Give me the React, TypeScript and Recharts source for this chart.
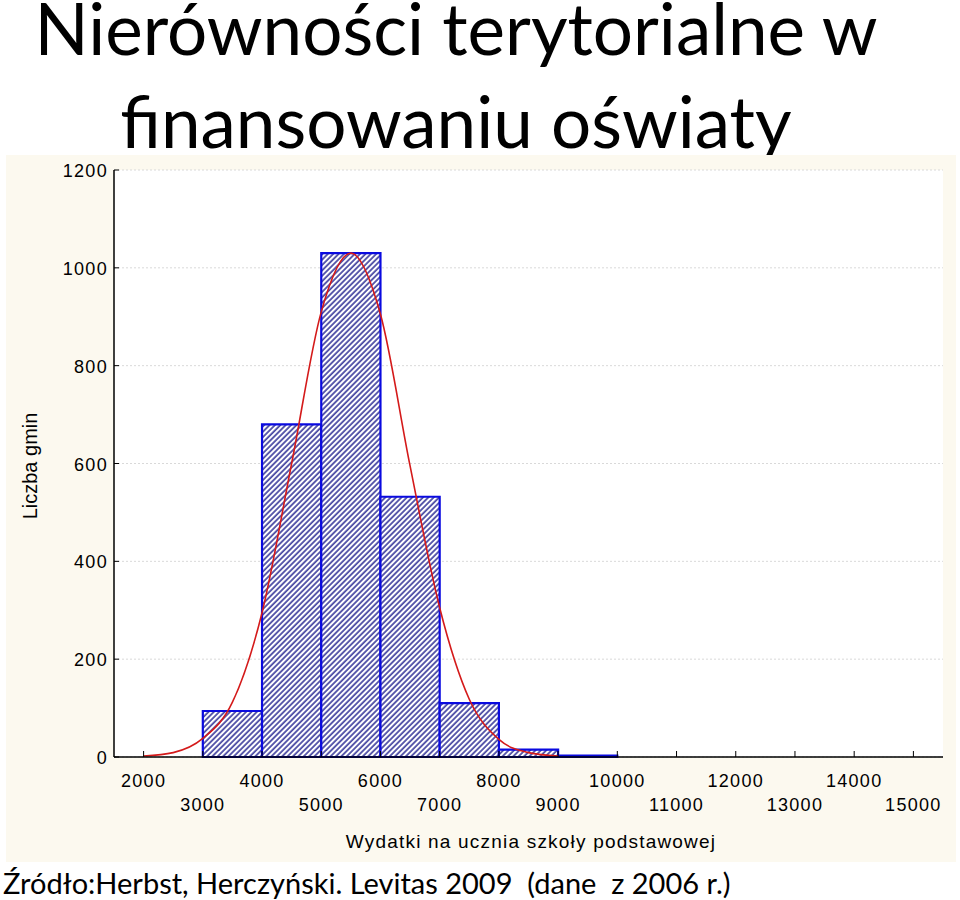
import React from 'react';
import { ComposedChart, Line, XAxis, YAxis, CartesianGrid, ReferenceArea } from 'recharts';

// Histogram bins (PLN per pupil) and number of municipalities
const binStart = [3000, 4000, 5000, 6000, 7000, 8000, 9000];
const binEnd = [4000, 5000, 6000, 7000, 8000, 9000, 10000];
const binCount = [94, 680, 1030, 532, 110, 15, 3];

// Fitted normal curve
const curveX = [2000, 2500, 3000, 3500, 4000, 4500, 5000, 5500, 6000, 6500, 7000, 7500, 8000, 8500, 9000];
const curveY = [2, 9, 38, 112, 295, 600, 910, 1030, 905, 595, 305, 118, 36, 9, 2];

const xTicks = [2000, 3000, 4000, 5000, 6000, 7000, 8000, 9000, 10000, 11000, 12000, 13000, 14000, 15000];
const yTicks = [0, 200, 400, 600, 800, 1000, 1200];

const titleLines = ['Nierówności terytorialne w', 'finansowaniu oświaty'];
const xLabel = 'Wydatki na ucznia szkoły podstawowej';
const yLabel = 'Liczba gmin';
const sourceText = 'Źródło:Herbst, Herczyński. Levitas 2009  (dane  z 2006 r.)';

const curveData = curveX.map((x, i) => ({ x, y: curveY[i] }));

const tickFont = { fontFamily: '"Liberation Sans", Arial, sans-serif', fontSize: 18, letterSpacing: 1.3 };

const BottomTick = (props: any) => {
  const { x, y, payload } = props;
  const v = payload.value as number;
  const even = (v / 1000) % 2 === 0;
  return (
    <g>
      <line x1={x} y1={y} x2={x} y2={y - 6} stroke="#000" strokeWidth={1} />
      <text x={x} y={y + (even ? 30 : 54)} textAnchor="middle" fill="#000" style={tickFont}>
        {v}
      </text>
    </g>
  );
};

const TopTick = (props: any) => {
  const { x, y } = props;
  return <line x1={x} y1={y} x2={x} y2={y + 6} stroke="#000" strokeWidth={1} />;
};

const LeftTick = (props: any) => {
  const { x, y, payload } = props;
  return (
    <g>
      <line x1={x} y1={y} x2={x + 5} y2={y} stroke="#000" strokeWidth={1} />
      <text x={x - 6} y={y + 7} textAnchor="end" fill="#000" style={tickFont}>
        {payload.value}
      </text>
    </g>
  );
};

const titleBaselines = [55, 148];

export default function App() {
  return (
    <div style={{ position: 'absolute', left: 0, top: 0, width: 960, height: 900, background: '#fff', overflow: 'hidden' }}>
      <svg width={0} height={0} style={{ position: 'absolute' }}>
        <defs>
          <pattern id="hatch" patternUnits="userSpaceOnUse" width={3.8} height={3.8} patternTransform="rotate(45)">
            <rect x={0} y={0} width={3.8} height={3.8} fill="#fff" />
            <line x1={1} y1={0} x2={1} y2={3.8} stroke="#1c1c8c" strokeWidth={1.4} />
          </pattern>
        </defs>
      </svg>
      <svg width={960} height={160} style={{ position: 'absolute', left: 0, top: 0 }}>
        {titleLines.map((t, i) => (
          <text
            key={i}
            x={456}
            y={titleBaselines[i]}
            textAnchor="middle"
            fill="#000"
            style={{ fontFamily: 'Lato, "Open Sans", sans-serif', fontSize: 71 }}
          >
            {t}
          </text>
        ))}
      </svg>
      <div style={{ position: 'absolute', left: 6, top: 155, width: 950, height: 707, background: '#fcf9ef' }} />
      <div style={{ position: 'absolute', left: 0, top: 0 }}>
        <ComposedChart
          width={960}
          height={900}
          data={curveData}
          margin={{ top: 170, right: 17, bottom: 83, left: 0 }}
        >
          <CartesianGrid vertical={false} fill="#fff" stroke="#d9d9d9" strokeDasharray="2 2" />
          <XAxis
            dataKey="x"
            type="number"
            domain={[1500, 15500]}
            ticks={xTicks}
            interval={0}
            height={60}
            tickSize={0}
            tickMargin={0}
            tickLine={false}
            axisLine={{ stroke: '#000', strokeWidth: 1.5 }}
            tick={<BottomTick />}
            allowDataOverflow
          />
          <XAxis
            xAxisId="top"
            dataKey="x"
            type="number"
            orientation="top"
            domain={[1500, 15500]}
            ticks={xTicks}
            interval={0}
            height={0}
            tickSize={0}
            tickMargin={0}
            tickLine={false}
            axisLine={{ stroke: '#000', strokeWidth: 1.5 }}
            tick={<TopTick />}
            allowDataOverflow
          />
          <YAxis
            type="number"
            domain={[0, 1200]}
            ticks={yTicks}
            interval={0}
            width={114}
            tickSize={0}
            tickMargin={0}
            tickLine={false}
            axisLine={{ stroke: '#000', strokeWidth: 1.5 }}
            tick={<LeftTick />}
            allowDataOverflow
          />
          <YAxis
            yAxisId="right"
            orientation="right"
            type="number"
            domain={[0, 1200]}
            width={0}
            tick={false}
            tickLine={false}
            axisLine={{ stroke: '#000', strokeWidth: 1.5 }}
          />
          {binStart.map((s, i) => (
            <ReferenceArea
              key={s}
              x1={s}
              x2={binEnd[i]}
              y1={0}
              y2={binCount[i]}
              fill="url(#hatch)"
              fillOpacity={1}
              stroke="#0a0ae0"
              strokeWidth={2.2}
              ifOverflow="visible"
            />
          ))}
          <Line
            type="monotone"
            dataKey="y"
            stroke="#d41a1a"
            strokeWidth={1.6}
            dot={false}
            isAnimationActive={false}
          />
          <text
            x={531}
            y={848}
            textAnchor="middle"
            fill="#000"
            style={{ fontFamily: '"Liberation Sans", Arial, sans-serif', fontSize: 19, letterSpacing: 1.2 }}
          >
            {xLabel}
          </text>
          <text
            x={37}
            y={466}
            textAnchor="middle"
            fill="#000"
            transform="rotate(-90 37 466)"
            style={{ fontFamily: '"Liberation Sans", Arial, sans-serif', fontSize: 20 }}
          >
            {yLabel}
          </text>
        </ComposedChart>
      </div>
      <div
        style={{
          position: 'absolute',
          left: 3,
          top: 866,
          fontFamily: 'Lato, "Open Sans", sans-serif',
          fontSize: 29,
          lineHeight: '34px',
          color: '#000',
          whiteSpace: 'pre',
        }}
      >
        {sourceText}
      </div>
    </div>
  );
}
